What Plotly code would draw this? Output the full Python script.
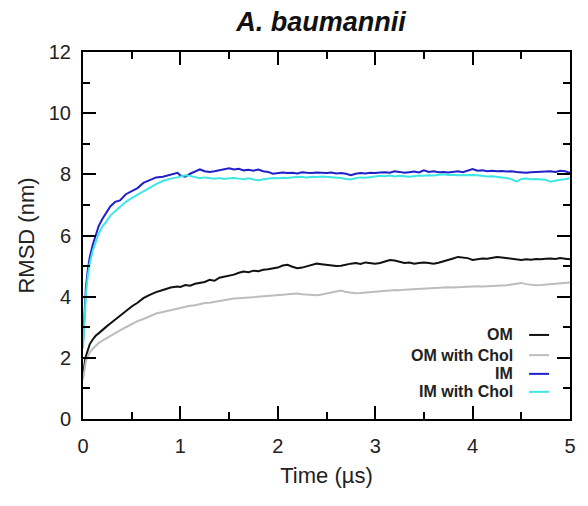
import plotly.graph_objects as go

# ---- data ----
t_early = [0, 0.01, 0.02, 0.03, 0.05, 0.07, 0.1, 0.13, 0.16, 0.2, 0.24, 0.28,
           0.33, 0.38, 0.44, 0.5, 0.56, 0.62, 0.68, 0.75, 0.82, 0.9, 0.97]
t_late = [round(1.0 + 0.05 * i, 2) for i in range(81)]
time_us = t_early + t_late

series_names = ["OM", "OM with Chol", "IM", "IM with Chol"]
series_colors = ["#111111", "#bdbdbd", "#2020c8", "#3ee6e6"]

om = [1.4, 1.7, 1.9, 2.05, 2.25, 2.45, 2.6, 2.72, 2.8, 2.92, 3.02, 3.12,
      3.25, 3.38, 3.52, 3.68, 3.8, 3.95, 4.05, 4.15, 4.22, 4.3, 4.33,
      4.32, 4.38, 4.36, 4.42, 4.45, 4.48, 4.55, 4.52, 4.62, 4.65,
      4.7, 4.72, 4.78, 4.82, 4.8, 4.85, 4.83, 4.88, 4.9, 4.93,
      4.95, 5.02, 5.04, 4.98, 4.93, 4.95, 5.0, 5.05, 5.08, 5.06,
      5.04, 5.02, 5.0, 5.01, 5.05, 5.08, 5.1, 5.07, 5.12, 5.1,
      5.08, 5.1, 5.15, 5.2, 5.18, 5.14, 5.1, 5.12, 5.08, 5.1,
      5.12, 5.1, 5.08, 5.11, 5.15, 5.2, 5.25, 5.3, 5.28, 5.26,
      5.2, 5.22, 5.25, 5.24, 5.27, 5.3, 5.28, 5.26, 5.24, 5.22,
      5.2, 5.22, 5.21, 5.23, 5.22, 5.24, 5.25, 5.23, 5.26, 5.24,
      5.22]

om_chol = [1.3, 1.55, 1.75, 1.9, 2.05, 2.18, 2.3, 2.4, 2.48, 2.56, 2.64, 2.72,
           2.8, 2.9, 3.0, 3.1, 3.2, 3.27, 3.35, 3.45, 3.5, 3.56, 3.62,
           3.64, 3.67, 3.7, 3.72, 3.76, 3.79, 3.8, 3.83, 3.85, 3.88,
           3.92, 3.94, 3.95, 3.96, 3.97, 3.98, 4.0, 4.0, 4.02, 4.03,
           4.04, 4.06, 4.08, 4.1, 4.1, 4.08, 4.07, 4.06, 4.05, 4.07,
           4.1, 4.14, 4.17, 4.2, 4.15, 4.12, 4.11, 4.12, 4.13, 4.15,
           4.17, 4.16, 4.18, 4.2, 4.22, 4.21, 4.23, 4.24, 4.24, 4.25,
           4.26, 4.27, 4.28, 4.29, 4.3, 4.31, 4.3, 4.31, 4.32, 4.33,
           4.33, 4.34, 4.33, 4.34, 4.35, 4.34, 4.35, 4.37, 4.4, 4.42,
           4.45, 4.41, 4.38, 4.37, 4.38, 4.39, 4.4, 4.42, 4.44, 4.45,
           4.46]

im = [2.5, 3.3, 3.9, 4.3, 4.9, 5.3, 5.7, 6.0, 6.3, 6.55, 6.75, 6.95,
      7.1, 7.15, 7.35, 7.45, 7.55, 7.72, 7.8, 7.9, 7.92, 7.98, 8.05,
      7.96, 7.92, 8.02, 8.1, 8.16, 8.1, 8.08, 8.1, 8.13, 8.18,
      8.2, 8.16, 8.18, 8.13, 8.15, 8.12, 8.16, 8.1, 8.08, 8.02,
      8.04, 8.06, 8.04, 8.05, 8.03, 8.07, 8.05, 8.04, 8.06, 8.05,
      8.04, 8.06, 8.03, 8.04, 8.02, 7.97, 8.02, 8.04, 8.03, 8.05,
      8.04, 8.06, 8.07, 8.05, 8.1, 8.08, 8.05, 8.07, 8.09, 8.06,
      8.13, 8.08, 8.1, 8.07, 8.08, 8.06, 8.08, 8.1, 8.07, 8.12,
      8.17, 8.12, 8.13, 8.1, 8.12, 8.1, 8.11, 8.09, 8.1, 8.08,
      8.06, 8.05, 8.07, 8.08, 8.07, 8.09, 8.1, 8.08, 8.12, 8.1,
      8.05]

im_chol = [2.3, 3.1, 3.7, 4.1, 4.7, 5.1, 5.5, 5.8, 6.05, 6.3, 6.45, 6.65,
           6.8, 6.95, 7.1, 7.22, 7.33, 7.42, 7.55, 7.68, 7.78, 7.86, 7.9,
           7.93, 7.97, 7.95, 7.9, 7.87, 7.9, 7.88, 7.86, 7.88, 7.85,
           7.87, 7.88, 7.86, 7.84, 7.87, 7.83, 7.8, 7.84, 7.86, 7.88,
           7.87, 7.89, 7.88, 7.9, 7.92, 7.91, 7.9, 7.92, 7.91, 7.93,
           7.92, 7.9, 7.91, 7.88, 7.85, 7.83, 7.87, 7.9, 7.89, 7.92,
           7.93, 7.95, 7.94, 7.96, 7.93, 7.95, 7.94, 7.92, 7.94, 7.96,
           7.95, 7.97, 7.96, 7.98, 8.0, 7.98, 7.99, 7.97, 7.98, 7.99,
           7.98, 7.97, 7.95, 7.93, 7.94, 7.91, 7.9, 7.88, 7.84, 7.76,
           7.85, 7.86, 7.84, 7.85, 7.83, 7.82, 7.76, 7.8, 7.82, 7.84,
           7.87]

series_values = [om, om_chol, im, im_chol]

x_ticks = [0, 1, 2, 3, 4, 5]
y_ticks = [0, 2, 4, 6, 8, 10, 12]

# ---- figure ----
FONT = "Liberation Sans, Arial, Helvetica, sans-serif"
W, H = 580, 498  # page body has an 8px margin
fig = go.Figure()
for name, vals, col in zip(series_names, series_values, series_colors):
    fig.add_trace(go.Scatter(x=time_us, y=vals, mode="lines", name=name,
                             line=dict(color=col, width=2), showlegend=False))

axis_common = dict(showgrid=False, zeroline=False, showline=True,
                   linecolor="black", linewidth=2, mirror="ticks",
                   ticks="inside", tickwidth=2, tickcolor="black",
                   tickfont=dict(family=FONT, size=20, color="#222"),
                   title_font=dict(family=FONT, size=22, color="#222"))

fig.update_xaxes(range=[0, 5], tickvals=x_ticks, ticklen=13,
                 minor=dict(dtick=0.5, ticklen=7, ticks="inside", tickwidth=2,
                            tickcolor="black"),
                 ticklabelstandoff=8,
                 title_text="Time (µs)", title_standoff=12, **axis_common)
fig.update_yaxes(range=[0, 12], tickvals=y_ticks, ticklen=13,
                 minor=dict(dtick=1, ticklen=7, ticks="inside", tickwidth=2,
                            tickcolor="black"),
                 ticklabelstandoff=6,
                 title_text="RMSD (nm)", title_standoff=8, **axis_common)

# legend drawn like the original: right-aligned labels, line sample on the right
leg_y = [0.229, 0.174, 0.123, 0.074]
for name, col, yy in zip(series_names, series_colors, leg_y):
    fig.add_annotation(x=0.8875, y=yy, xref="paper", yref="paper",
                       text="<b>" + name + "</b>", showarrow=False,
                       xanchor="right", yanchor="middle",
                       font=dict(family=FONT, size=16, color="#222"))
    fig.add_shape(type="line", xref="paper", yref="paper",
                  x0=0.916, x1=0.957, y0=yy, y1=yy,
                  line=dict(color=col, width=2))

fig.update_layout(
    width=W, height=H,
    margin=dict(l=75, r=16, t=44, b=87),
    paper_bgcolor="white", plot_bgcolor="white",
    title=dict(text="<b><i>A. baumannii</i></b>", x=313 / W, xanchor="center",
               y=1 - 14 / H, yanchor="middle",
               font=dict(family=FONT, size=27, color="#111")),
)

fig.write_html("out.html")
